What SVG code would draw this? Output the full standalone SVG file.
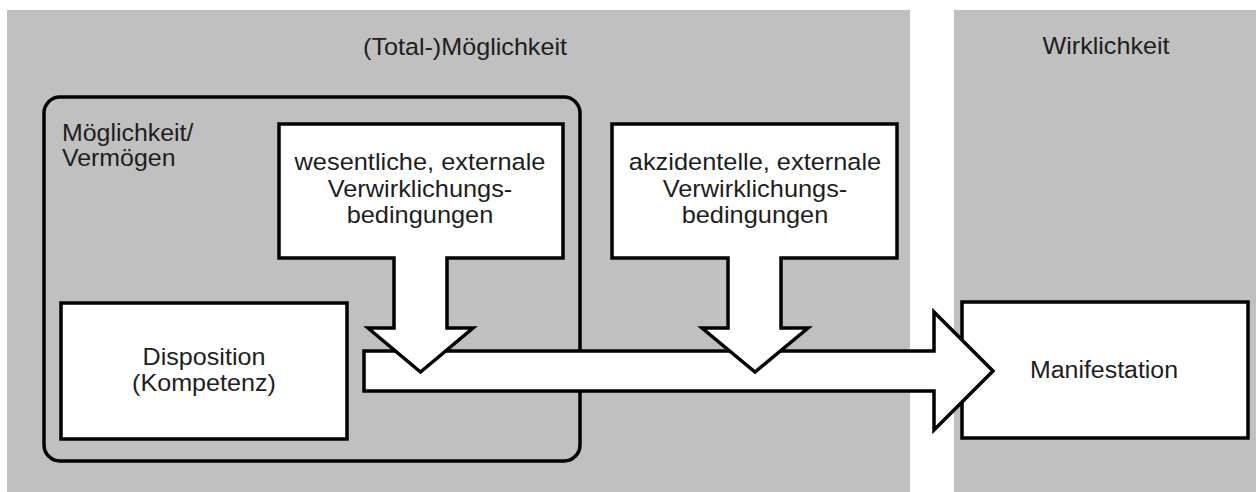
<svg xmlns="http://www.w3.org/2000/svg" width="1256" height="492" viewBox="0 0 1256 492">
<style>
.bg{fill:#c0c0c0}
.box{fill:#fff;stroke:#000;stroke-width:3.5;stroke-linejoin:miter}
.frame{fill:none;stroke:#000;stroke-width:3.5}
text{font-family:"Liberation Sans",Arial,sans-serif;font-size:23.5px;fill:#1e1e1e}
.c{text-anchor:middle}
</style>
<rect width="1256" height="492" fill="#fff"/>
<g id="panel-total">
<rect class="bg" x="7" y="10" width="903" height="482"/>
<text class="c" transform="translate(465,55) scale(1.07,1)">(Total-)Möglichkeit</text>
</g>
<g id="panel-wirklichkeit">
<rect class="bg" x="954" y="10" width="302" height="482"/>
<text class="c" transform="translate(1106,54) scale(1.07,1)">Wirklichkeit</text>
</g>
<g id="vermoegen">
<rect class="frame" x="44" y="97" width="536" height="364" rx="16"/>
<text transform="translate(62,141) scale(1.06,1)">Möglichkeit/</text>
<text transform="translate(62,166) scale(1.06,1)">Vermögen</text>
</g>
<g id="disposition">
<rect class="box" x="61" y="303" width="286" height="136"/>
<text class="c" transform="translate(204,365) scale(1.07,1)">Disposition</text>
<text class="c" transform="translate(204,391) scale(1.07,1)">(Kompetenz)</text>
</g>
<g id="manifestation">
<rect class="box" x="962" y="302" width="286" height="136"/>
<text class="c" transform="translate(1104,378) scale(1.06,1)">Manifestation</text>
</g>
<g id="connectors">
<path class="box" d="M364,351 H934 V312 L993,371 L934,430 V391 H364 Z"/>
</g>
<g id="wesentliche">
<path class="box" d="M279,124 H563 V258 H447 V328 H473 L420.5,372 L368,328 H394 V258 H279 Z"/>
<text class="c" transform="translate(420,170) scale(1.08,1)">wesentliche, externale</text>
<text class="c" transform="translate(420,197) scale(1.08,1)">Verwirklichungs-</text>
<text class="c" transform="translate(420,223) scale(1.08,1)">bedingungen</text>
</g>
<g id="akzidentelle">
<path class="box" d="M612,124 H897 V258 H781 V328 H808 L755,372 L702,328 H728 V258 H612 Z"/>
<text class="c" transform="translate(755,170) scale(1.08,1)">akzidentelle, externale</text>
<text class="c" transform="translate(755,197) scale(1.08,1)">Verwirklichungs-</text>
<text class="c" transform="translate(755,223) scale(1.08,1)">bedingungen</text>
</g>
</svg>
